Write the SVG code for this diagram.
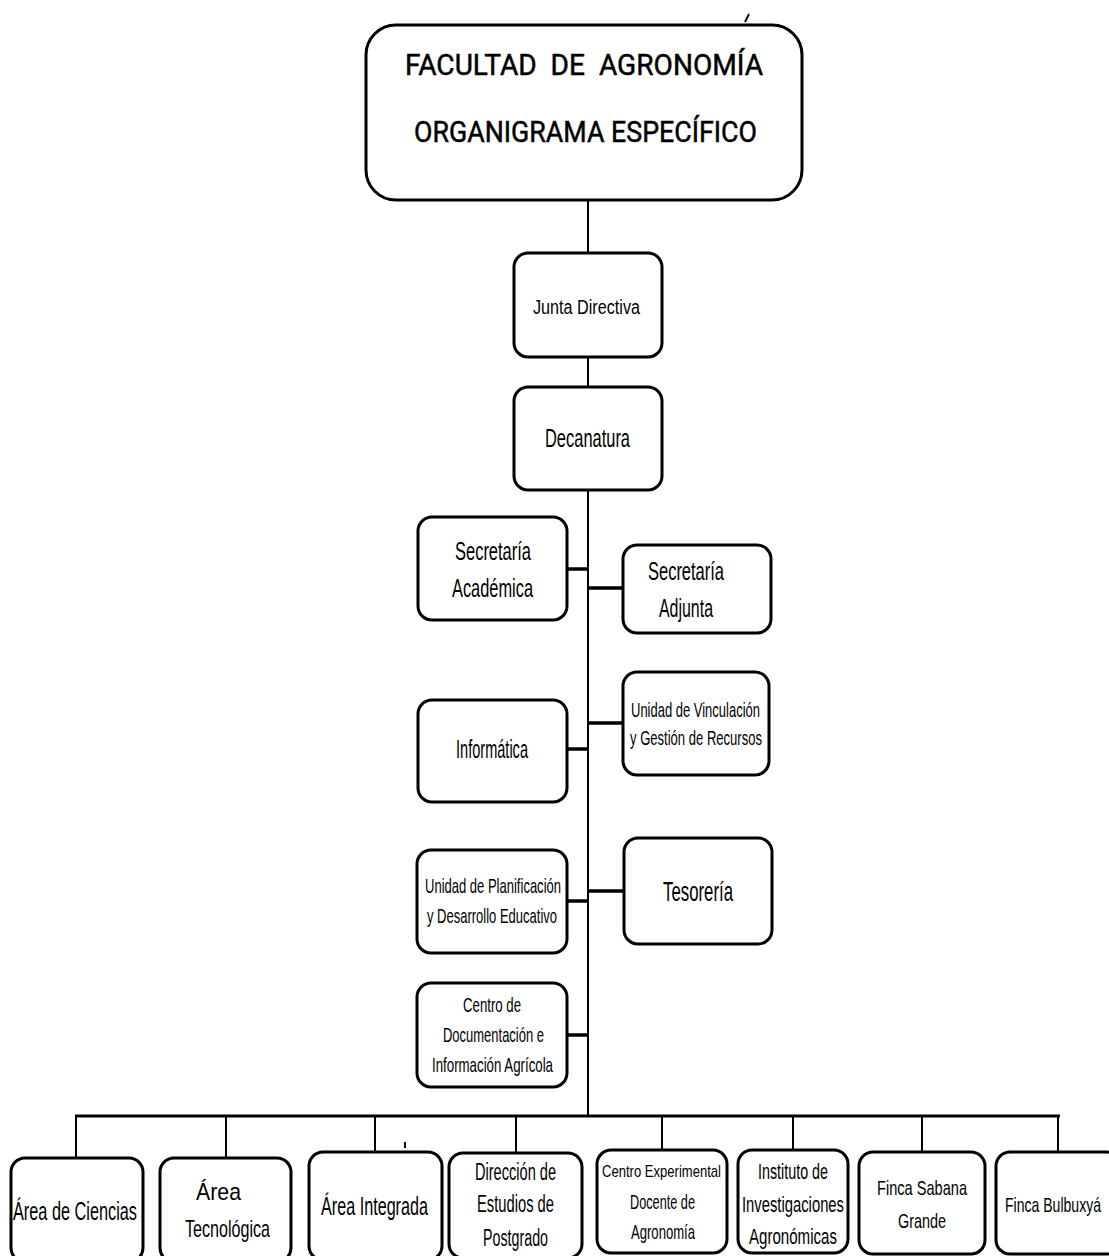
<svg xmlns="http://www.w3.org/2000/svg" width="1109" height="1256" viewBox="0 0 1109 1256">
<style>
.box{fill:#fff;stroke:#000;stroke-width:3}
.t{font-family:"Liberation Sans",Arial,sans-serif;fill:#000;text-anchor:start}
.title{font-family:Roboto,"DejaVu Sans",sans-serif;fill:#000;stroke:#000;stroke-width:0.5;font-size:30px}
.v{stroke:#000;stroke-width:2;fill:none}
.h{stroke:#000;stroke-width:3.5;fill:none}
.hb{stroke:#000;stroke-width:3;fill:none}
</style>
<rect width="1109" height="1256" fill="#fff"/>
<g id="connectors">
<line class="v" x1="588" y1="200" x2="588" y2="253"/>
<line class="v" x1="588" y1="357" x2="588" y2="387"/>
<line class="v" x1="588" y1="490" x2="588" y2="1116"/>
<line class="h" x1="567" y1="569" x2="588" y2="569"/>
<line class="h" x1="588" y1="588" x2="623" y2="588"/>
<line class="h" x1="567" y1="749" x2="588" y2="749"/>
<line class="h" x1="588" y1="723" x2="623" y2="723"/>
<line class="h" x1="567" y1="901" x2="588" y2="901"/>
<line class="h" x1="588" y1="891" x2="624" y2="891"/>
<line class="h" x1="567" y1="1035" x2="588" y2="1035"/>
<line class="hb" x1="75" y1="1116" x2="1060" y2="1116"/>
<line class="v" x1="76" y1="1116" x2="76" y2="1158"/>
<line class="v" x1="226" y1="1116" x2="226" y2="1158"/>
<line class="v" x1="375" y1="1116" x2="375" y2="1152"/>
<line class="v" x1="516" y1="1116" x2="516" y2="1153"/>
<line class="v" x1="662" y1="1116" x2="662" y2="1150"/>
<line class="v" x1="793" y1="1116" x2="793" y2="1150"/>
<line class="v" x1="922" y1="1116" x2="922" y2="1152"/>
<line class="v" x1="1058" y1="1116" x2="1058" y2="1152"/>
</g>
<g id="marks">
<line x1="749" y1="14" x2="745" y2="22" stroke="#000" stroke-width="2"/>
<line x1="405" y1="1142" x2="405" y2="1148" stroke="#000" stroke-width="2"/>
</g>
<g id="title">
<rect class="box" x="366" y="25" width="436" height="175" rx="30"/>
<text class="title" x="405" y="75" textLength="358" lengthAdjust="spacingAndGlyphs" xml:space="preserve">FACULTAD  DE  AGRONOMÍA</text>
<text class="title" x="414" y="142" textLength="343" lengthAdjust="spacingAndGlyphs">ORGANIGRAMA ESPECÍFICO</text>
</g>
<g id="junta">
<rect class="box" x="514" y="253" width="148" height="104" rx="14"/>
<text class="t" x="533" y="314" font-size="20" textLength="107" lengthAdjust="spacingAndGlyphs">Junta Directiva</text>
</g>
<g id="decanatura">
<rect class="box" x="514" y="387" width="148" height="103" rx="14"/>
<text class="t" x="545" y="447" font-size="25" textLength="85" lengthAdjust="spacingAndGlyphs">Decanatura</text>
</g>
<g id="sec-academica">
<rect class="box" x="418" y="517" width="149" height="103" rx="14"/>
<text class="t" x="455" y="560" font-size="26" textLength="76" lengthAdjust="spacingAndGlyphs">Secretaría</text>
<text class="t" x="452" y="597" font-size="26" textLength="81" lengthAdjust="spacingAndGlyphs">Académica</text>
</g>
<g id="sec-adjunta">
<rect class="box" x="623" y="545" width="148" height="88" rx="14"/>
<text class="t" x="648" y="580" font-size="25.5" textLength="76" lengthAdjust="spacingAndGlyphs">Secretaría</text>
<text class="t" x="659" y="617" font-size="25.5" textLength="54" lengthAdjust="spacingAndGlyphs">Adjunta</text>
</g>
<g id="informatica">
<rect class="box" x="418" y="700" width="149" height="102" rx="14"/>
<text class="t" x="456" y="758" font-size="26" textLength="72" lengthAdjust="spacingAndGlyphs">Informática</text>
</g>
<g id="vinculacion">
<rect class="box" x="623" y="672" width="146" height="103" rx="14"/>
<text class="t" x="631" y="717" font-size="21" textLength="129" lengthAdjust="spacingAndGlyphs">Unidad de Vinculación</text>
<text class="t" x="630" y="745" font-size="21" textLength="132" lengthAdjust="spacingAndGlyphs">y Gestión de Recursos</text>
</g>
<g id="planificacion">
<rect class="box" x="417" y="850" width="150" height="103" rx="14"/>
<text class="t" x="425" y="893" font-size="21" textLength="136" lengthAdjust="spacingAndGlyphs">Unidad de Planificación</text>
<text class="t" x="427" y="923" font-size="21" textLength="130" lengthAdjust="spacingAndGlyphs">y Desarrollo Educativo</text>
</g>
<g id="tesoreria">
<rect class="box" x="624" y="838" width="148" height="106" rx="14"/>
<text class="t" x="663" y="901" font-size="28" textLength="70" lengthAdjust="spacingAndGlyphs">Tesorería</text>
</g>
<g id="centro-doc">
<rect class="box" x="417" y="983" width="150" height="104" rx="14"/>
<text class="t" x="463" y="1012" font-size="21" textLength="58" lengthAdjust="spacingAndGlyphs">Centro de</text>
<text class="t" x="443" y="1042" font-size="21" textLength="101" lengthAdjust="spacingAndGlyphs">Documentación e</text>
<text class="t" x="432" y="1072" font-size="21" textLength="121" lengthAdjust="spacingAndGlyphs">Información Agrícola</text>
</g>
<g id="area-ciencias">
<rect class="box" x="11" y="1158" width="132" height="104" rx="14"/>
<text class="t" x="13" y="1220" font-size="25" textLength="124" lengthAdjust="spacingAndGlyphs">Área de Ciencias</text>
</g>
<g id="area-tecnologica">
<rect class="box" x="160" y="1158" width="131" height="104" rx="14"/>
<text class="t" x="196" y="1200" font-size="24" textLength="45" lengthAdjust="spacingAndGlyphs">Área</text>
<text class="t" x="185" y="1237" font-size="24" textLength="85" lengthAdjust="spacingAndGlyphs">Tecnológica</text>
</g>
<g id="area-integrada">
<rect class="box" x="309" y="1152" width="133" height="108" rx="14"/>
<text class="t" x="321" y="1215" font-size="25" textLength="107" lengthAdjust="spacingAndGlyphs">Área Integrada</text>
</g>
<g id="direccion-postgrado">
<rect class="box" x="449" y="1153" width="133" height="105" rx="14"/>
<text class="t" x="475" y="1180" font-size="23" textLength="81" lengthAdjust="spacingAndGlyphs">Dirección de</text>
<text class="t" x="477" y="1212" font-size="23" textLength="77" lengthAdjust="spacingAndGlyphs">Estudios de</text>
<text class="t" x="483" y="1246" font-size="23" textLength="65" lengthAdjust="spacingAndGlyphs">Postgrado</text>
</g>
<g id="centro-experimental">
<rect class="box" x="597" y="1150" width="130" height="103" rx="14"/>
<text class="t" x="602" y="1177" font-size="17" textLength="119" lengthAdjust="spacingAndGlyphs">Centro Experimental</text>
<text class="t" x="630" y="1209" font-size="21" textLength="65" lengthAdjust="spacingAndGlyphs">Docente de</text>
<text class="t" x="631" y="1239" font-size="21" textLength="64" lengthAdjust="spacingAndGlyphs">Agronomía</text>
</g>
<g id="instituto">
<rect class="box" x="738" y="1150" width="110" height="103" rx="14"/>
<text class="t" x="758" y="1179" font-size="22" textLength="70" lengthAdjust="spacingAndGlyphs">Instituto de</text>
<text class="t" x="742" y="1212" font-size="22" textLength="102" lengthAdjust="spacingAndGlyphs">Investigaciones</text>
<text class="t" x="749" y="1244" font-size="22" textLength="88" lengthAdjust="spacingAndGlyphs">Agronómicas</text>
</g>
<g id="finca-sabana">
<rect class="box" x="859" y="1152" width="126" height="102" rx="14"/>
<text class="t" x="877" y="1195" font-size="21" textLength="90" lengthAdjust="spacingAndGlyphs">Finca Sabana</text>
<text class="t" x="898" y="1228" font-size="21" textLength="48" lengthAdjust="spacingAndGlyphs">Grande</text>
</g>
<g id="finca-bulbuxya">
<rect class="box" x="996" y="1152" width="124" height="102" rx="14"/>
<text class="t" x="1005" y="1212" font-size="21" textLength="96" lengthAdjust="spacingAndGlyphs">Finca Bulbuxyá</text>
</g>
</svg>
